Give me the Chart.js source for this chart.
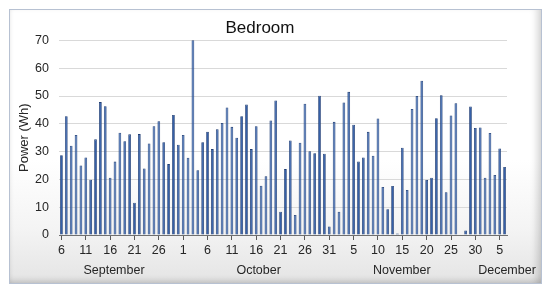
<!DOCTYPE html>
<html>
<head>
<meta charset="utf-8">
<script src="https://cdn.jsdelivr.net/npm/chart.js@4/dist/chart.umd.min.js"></script>
<style>
  html, body { margin:0; padding:0; background:#ffffff; width:550px; height:296px; overflow:hidden; }
  #frame { position:absolute; left:9px; top:9px; width:531px; height:273px;
    border:1px solid #b7c1d2;
    background: linear-gradient(#ffffff 0%, #ffffff 55%, #f4f4f4 80%, #e4e4e4 100%);
    box-shadow: inset -8px 0 7px -4px rgba(0,0,0,0.16), inset 0 -6px 6px -4px rgba(0,0,0,0.16), inset 4px 0 5px -4px rgba(0,0,0,0.08); }
  #c { position:absolute; left:0; top:0; }
</style>
</head>
<body>
<div id="frame"></div>
<canvas id="c" width="550" height="296"></canvas>
<script>
// ---- data (daily energy, Wh) ----
const months = ['September', 'October', 'November', 'December'];
const firstDay = [6, 1, 1, 1];
const sepWh = [28.7, 42.7, 32.1, 36.0, 25.0, 27.9, 19.9, 34.4, 47.8, 46.3, 20.6, 26.4, 36.8, 33.7, 36.2, 11.6, 36.3, 23.9, 32.9, 39.1, 40.9, 33.4, 25.5, 43.2, 32.5];
const octWh = [36.0, 27.8, 70.1, 23.3, 33.4, 37.1, 30.9, 38.0, 40.3, 45.9, 38.9, 35.0, 42.7, 46.9, 30.9, 39.1, 17.7, 21.1, 41.2, 48.4, 8.4, 23.7, 34.0, 7.2, 33.2, 47.2, 30.1, 29.4, 50.1, 29.2, 3.1];
const novWh = [40.7, 8.4, 47.7, 51.5, 39.7, 26.4, 27.9, 37.1, 28.5, 41.9, 17.3, 9.3, 17.6, 0.5, 31.4, 16.2, 45.3, 50.0, 55.5, 19.8, 20.6, 42.0, 50.3, 15.4, 43.0, 47.4, 0, 1.6, 46.2, 38.5];
const decWh = [38.7, 20.6, 36.7, 21.6, 31.1, 24.5];
const yTicks = [0, 10, 20, 30, 40, 50, 60, 70];
// month group labels, placed at category index
const monthLabelAt = [10.8, 40.5, 69.9, 91.5];

const monthSeries = [sepWh, octWh, novWh, decWh];
const labels = [];
const values = [];
monthSeries.forEach((arr, m) => {
  arr.forEach((v, i) => { labels.push(String(firstDay[m] + i)); values.push(v); });
});

const FONT = "'Liberation Sans', Arial, sans-serif";
const TXT = '#262626';

new Chart(document.getElementById('c'), {
  type: 'bar',
  data: {
    labels: labels,
    datasets: [{
      data: values,
      backgroundColor: '#3560a8',
      borderColor: '#1e3c72',
      borderWidth: 0.8,
      barPercentage: 0.56,
      categoryPercentage: 1.0,
      xAxisID: 'x',
      yAxisID: 'y'
    }]
  },
  options: {
    responsive: false,
    animation: false,
    devicePixelRatio: 1,
    layout: { padding: { left: 13, right: 43, top: 8, bottom: 17 } },
    plugins: {
      legend: { display: false },
      tooltip: { enabled: false },
      title: {
        display: true, text: 'Bedroom', color: '#111',
        font: { family: FONT, size: 17, weight: 'normal' },
        padding: { top: 10, bottom: 2 }
      }
    },
    scales: {
      x: {
        type: 'category',
        position: 'bottom',
        offset: true,
        weight: 0,
        border: { display: true, color: '#6f6f6f', width: 1 },
        grid: {
          display: true, drawOnChartArea: false, drawTicks: true, offset: false,
          tickLength: 5, lineWidth: 1,
          color: (c) => (c.index % 5 === 0 ? '#5a5a5a' : 'rgba(0,0,0,0)')
        },
        ticks: {
          autoSkip: false, maxRotation: 0, minRotation: 0, padding: 3.5,
          color: TXT, font: { family: FONT, size: 12.5 },
          callback: (v, i) => (i % 5 === 0 ? labels[i] : '')
        }
      },
      x2: {
        type: 'linear',
        axis: 'x',
        position: 'bottom',
        weight: 1,
        min: -0.5, max: labels.length - 0.5,
        offset: false,
        border: { display: false },
        grid: { display: false, drawTicks: false },
        afterBuildTicks: (scale) => { scale.ticks = monthLabelAt.map(v => ({ value: v })); },
        ticks: {
          autoSkip: false, maxRotation: 0, minRotation: 0, padding: 1,
          color: TXT, font: { family: FONT, size: 12.5 },
          callback: (v, i) => months[i]
        }
      },
      y: {
        min: 0, max: 70,
        afterBuildTicks: (scale) => { scale.ticks = yTicks.map(v => ({ value: v })); },
        afterFit: (scale) => { scale.width = 46; },
        border: { display: false },
        grid: { color: '#d9d9d9', lineWidth: 1, drawTicks: false },
        ticks: { padding: 10, color: TXT, font: { family: FONT, size: 12.5 } },
        title: {
          display: true, text: 'Power (Wh)', color: TXT,
          font: { family: FONT, size: 13 }, padding: { top: 4, bottom: 4 }
        }
      }
    }
  }
});
</script>
</body>
</html>
